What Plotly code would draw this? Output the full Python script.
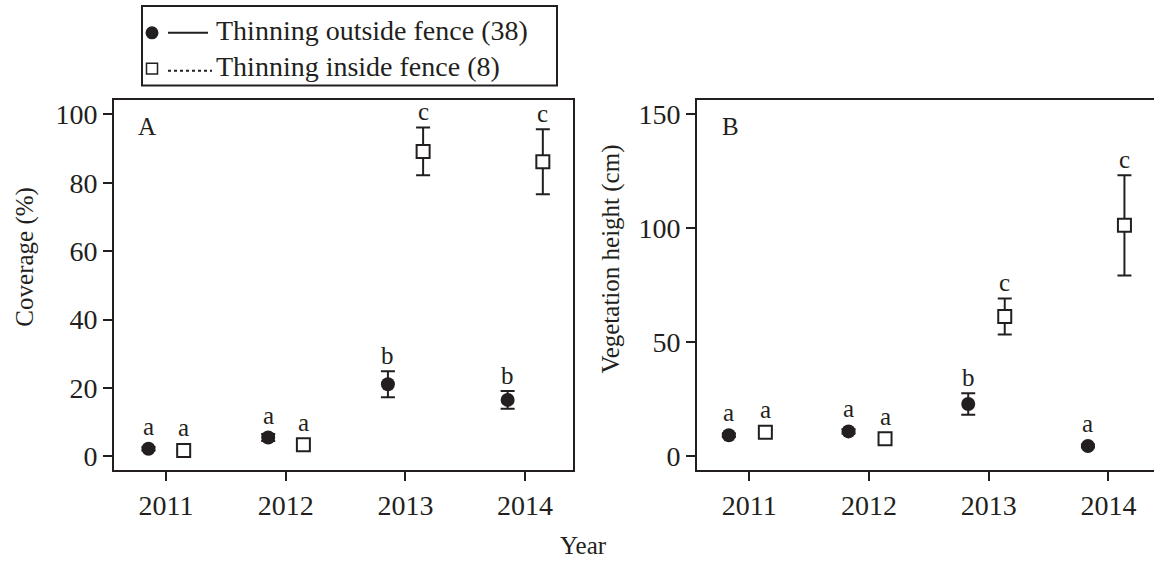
import plotly.graph_objects as go

# ---------------- data ----------------
years = [2011, 2012, 2013, 2014]

# Panel A: coverage (%)
cov_out = [2.2, 5.5, 21.1, 16.5]
cov_out_err = [0.5, 1.0, 3.8, 2.6]
cov_in = [1.7, 3.4, 89.2, 86.2]
cov_in_err = [0.5, 0.8, 7.0, 9.5]
cov_out_letters = ["a", "a", "b", "b"]
cov_in_letters = ["a", "a", "c", "c"]

# Panel B: vegetation height (cm)
hgt_out = [9.2, 10.9, 22.9, 4.5]
hgt_out_err = [0.8, 0.9, 4.7, 0.6]
hgt_in = [10.5, 7.7, 61.3, 101.3]
hgt_in_err = [0.9, 0.8, 7.9, 22.0]
hgt_out_letters = ["a", "a", "b", "a"]
hgt_in_letters = ["a", "a", "c", "c"]

legend_labels = ["Thinning outside fence (38)", "Thinning inside fence (8)"]
panel_labels = ["A", "B"]
y_titles = ["Coverage (%)", "Vegetation height (cm)"]
x_title = "Year"
y_ticks_A = [0, 20, 40, 60, 80, 100]
y_ticks_B = [0, 50, 100, 150]

# ---------------- layout constants ----------------
W, H = 1154, 564
INK = "#231f20"
FONT = "Liberation Serif, Times New Roman, serif"
A_px = (114, 573)
B_px = (697, 1154)
Y_px = (100, 472)
rangeA_x = [2010.566, 2014.400]
rangeB_x = [2010.563, 2014.381]
rangeA_y = [-4.15, 104.1]
rangeB_y = [-6.25, 156.1]
off_out = {"A": -0.146, "B": -0.171}
off_in = {"A": 0.148, "B": 0.134}
R = 7  # marker radius px


def px(x):
    return x / W


def py(y):
    return 1 - y / H


fig = go.Figure()


def add_panel(tag, xa, ya, out_v, out_e, in_v, in_e, out_l, in_l, yr):
    xo = [yv + off_out[tag] for yv in years]
    xi = [yv + off_in[tag] for yv in years]
    fig.add_trace(go.Scatter(
        x=xo, y=out_v, mode="markers", xaxis=xa, yaxis=ya,
        error_y=dict(type="data", array=out_e, color=INK, thickness=2, width=7),
        marker=dict(symbol="circle", size=14, color=INK, line=dict(width=0)),
        showlegend=False, name=legend_labels[0]))
    fig.add_trace(go.Scatter(
        x=xi, y=in_v, mode="markers", xaxis=xa, yaxis=ya,
        error_y=dict(type="data", array=in_e, color=INK, thickness=2, width=7),
        marker=dict(symbol="square", size=13, color="white", line=dict(width=2, color=INK)),
        showlegend=False, name=legend_labels[1]))
    ppu = (Y_px[1] - Y_px[0]) / (yr[1] - yr[0])
    gap = 0
    for xs, vs, es, ls in ((xo, out_v, out_e, out_l), (xi, in_v, in_e, in_l)):
        for x, v, e, l in zip(xs, vs, es, ls):
            shift = max(e * ppu, R) + gap
            fig.add_annotation(x=x, y=v, xref=xa, yref=ya,
                               text=l, showarrow=False, xanchor="center", yanchor="bottom",
                               yshift=shift, font=dict(family=FONT, size=25, color=INK))


add_panel("A", "x", "y", cov_out, cov_out_err, cov_in, cov_in_err,
          cov_out_letters, cov_in_letters, rangeA_y)
add_panel("B", "x2", "y2", hgt_out, hgt_out_err, hgt_in, hgt_in_err,
          hgt_out_letters, hgt_in_letters, rangeB_y)

axis_common = dict(showline=True, linewidth=2, linecolor=INK, ticks="outside",
                   ticklen=9, tickwidth=2, tickcolor=INK, showgrid=False,
                   zeroline=False, tickfont=dict(family=FONT, size=28, color=INK))

ydom = [py(Y_px[1]), py(Y_px[0])]
fig.update_layout(
    width=W, height=H, autosize=False,
    margin=dict(l=0, r=0, t=0, b=0),
    paper_bgcolor="white", plot_bgcolor="white",
    xaxis=dict(domain=[px(A_px[0]), px(A_px[1])], range=rangeA_x, tickvals=years,
               mirror=True, anchor="y", **axis_common),
    yaxis=dict(domain=ydom, range=rangeA_y, tickvals=y_ticks_A, mirror=True,
               anchor="x", **axis_common),
    xaxis2=dict(domain=[px(B_px[0]), px(B_px[1])], range=rangeB_x, tickvals=years,
                mirror=True, anchor="y2", **axis_common),
    yaxis2=dict(domain=ydom, range=rangeB_y, tickvals=y_ticks_B, mirror=False,
                anchor="x2", **axis_common),
)


def note(x, y, text, size, angle=0, xanchor="center"):
    fig.add_annotation(x=px(x), y=py(y), xref="paper", yref="paper", text=text,
                       textangle=angle, showarrow=False, xanchor=xanchor, yanchor="middle",
                       font=dict(family=FONT, size=size, color=INK))


# panel labels
note(147, 126, panel_labels[0], 25)
note(730, 126, panel_labels[1], 25)

# axis titles
note(25, 257, y_titles[0], 25, angle=-90)
note(611, 260, y_titles[1], 25, angle=-90)
note(583, 547, x_title, 25)

# legend (drawn manually)
fig.add_shape(type="rect", xref="paper", yref="paper", x0=px(142), x1=px(557),
              y0=py(85), y1=py(5), line=dict(color=INK, width=2), fillcolor="white")
fig.add_shape(type="circle", xref="paper", yref="paper", x0=px(145.5), x1=px(158.5),
              y0=py(38.5), y1=py(25.5), line=dict(width=0), fillcolor=INK)
fig.add_shape(type="line", xref="paper", yref="paper", x0=px(168), x1=px(208),
              y0=py(32), y1=py(32), line=dict(color=INK, width=2))
fig.add_shape(type="rect", xref="paper", yref="paper", x0=px(146.5), x1=px(157.5),
              y0=py(73.5), y1=py(62.5), line=dict(color=INK, width=1.5), fillcolor="white")
fig.add_shape(type="line", xref="paper", yref="paper", x0=px(168), x1=px(212),
              y0=py(70), y1=py(70), line=dict(color=INK, width=2, dash="dot"))
note(214, 30, legend_labels[0], 28, xanchor="left")
note(214, 66, legend_labels[1], 28, xanchor="left")

fig.write_html("out.html", config={"displayModeBar": False},
               post_script="document.body.style.margin='0';")
